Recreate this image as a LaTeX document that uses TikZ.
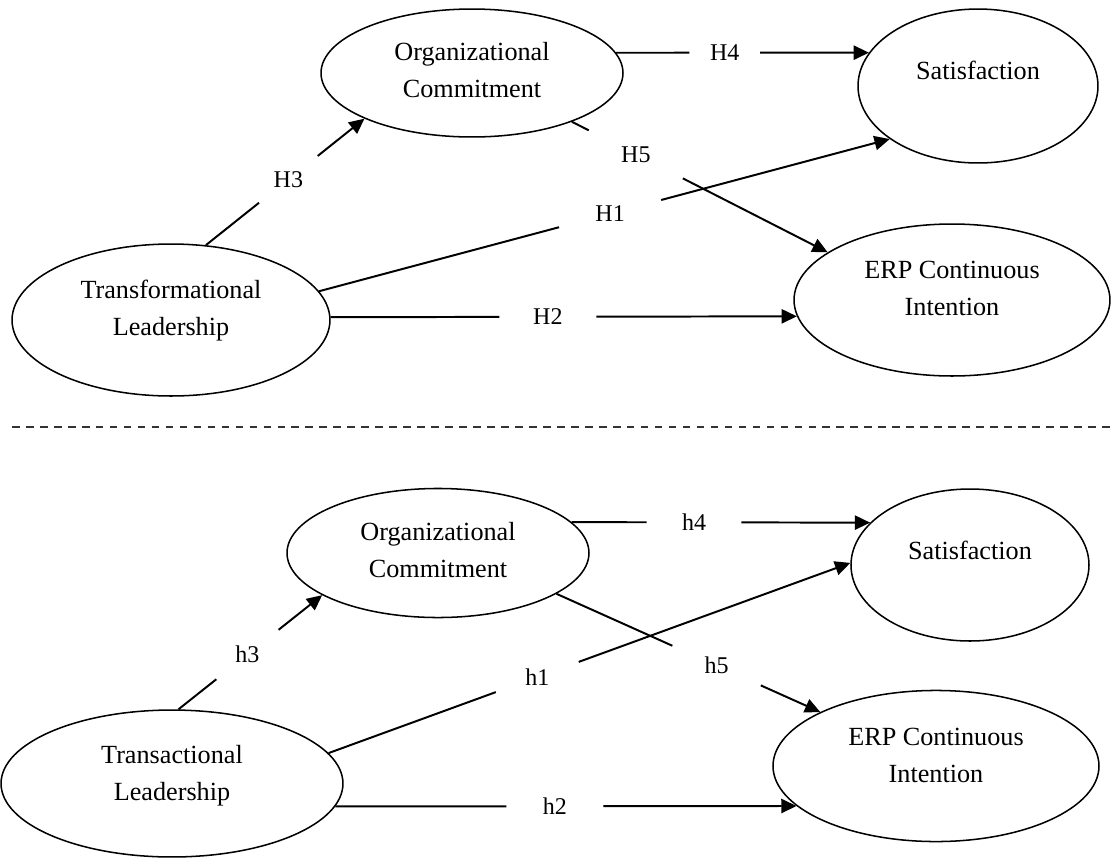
\documentclass[tikz,border=0pt]{standalone}
\usepackage{fontspec}
\setmainfont{Liberation Serif}
\usetikzlibrary{arrows.meta,calc,shapes.geometric}
\tikzset{>={Triangle[length=7pt,width=6.5pt]}}
\tikzstyle{latent}=[
	 ellipse, draw, line width=0.7pt,
	 inner sep=0pt,
	 font=\fontsize{12}{16.9}\selectfont
    ]
\tikzstyle{hyp}=[
	 circle, inner sep=0pt, minimum size=44pt,
	 font=\fontsize{11}{13}\selectfont
    ]
\newcommand{\lTxt}[2][0pt]{\smash{\raisebox{#1}{\begin{tabular}{@{}c@{}}#2\end{tabular}}}}
\newcommand{\pHY}[3]{\draw[line width=0.9pt] (#1) -- (#2); \draw[->,line width=0.9pt] (#2) -- (#3)}

\begin{document}
\begin{tikzpicture}[x=0.458pt,y=-0.458pt]
\useasboundingbox (0,0) rectangle (1112,859);

% transformational model
\node[latent,minimum width=145.6pt,minimum height=69.6pt] (TL) at (171,320) {\lTxt[1.9pt]{Transformational\\Leadership}};
\node[latent,minimum width=138.3pt,minimum height=58.6pt] (OC1) at (472,73) {\lTxt[-2.2pt]{Organizational\\Commitment}};
\node[latent,minimum width=109.9pt,minimum height=70.5pt] (SA1) at (978,86) {\lTxt[3.3pt]{Satisfaction}};
\node[latent,minimum width=144.7pt,minimum height=69.6pt] (EI1) at (952,300) {\lTxt[1.9pt]{ERP Continuous\\Intention}};

\node[hyp,minimum size=34pt] (H3) at ($(TL.65)!0.52!(OC1.203)$) {H3};
\node[hyp,minimum size=32pt] (H4) at ($(OC1.8)!0.43!(SA1.163)$) {H4};
\node[hyp,minimum size=48pt] (H5) at ($(OC1.334)!0.25!(EI1.159)$) {H5};
\node[hyp,minimum size=48pt] (H1) at ($(TL.11)!0.51!(SA1.211)$) {H1};
\node[hyp] (H2) at ($(TL.1)!0.466!(EI1.186)$) {H2};

\pHY{TL.65}{H3}{OC1.203};
\pHY{OC1.8}{H4}{SA1.163};
\pHY{OC1.334}{H5}{EI1.159};
\pHY{TL.11}{H1}{SA1.211};
\pHY{TL.1}{H2}{EI1.186};

% separator
\draw[black!80,line width=0.9pt,dash pattern=on 3.5pt off 2.9pt] (12,427) -- (1112,427);

% transactional model
\node[latent,minimum width=156.6pt,minimum height=67.3pt] (TC) at (172,783.5) {\lTxt[1pt]{Transactional\\Leadership}};
\node[latent,minimum width=138.3pt,minimum height=59.1pt] (OC2) at (438,553) {\lTxt[-2.2pt]{Organizational\\Commitment}};
\node[latent,minimum width=109pt,minimum height=69.6pt] (SA2) at (970,565) {\lTxt[2.8pt]{Satisfaction}};
\node[latent,minimum width=149.3pt,minimum height=69.2pt] (EI2) at (936,766) {\lTxt[1.4pt]{ERP Continuous\\Intention}};

\node[hyp,minimum size=36pt] (h3) at ($(TC.85)!0.48!(OC2.200)$) {h3};
\node[hyp,minimum size=43pt] (h4) at ($(OC2.13)!0.41!(SA2.157)$) {h4};
\node[hyp] (h5) at ($(OC2.341)!0.607!(EI2.155)$) {h5};
\node[hyp,minimum size=40pt] (h1) at ($(TC.11)!0.40!(SA2.179)$) {h1};
\node[hyp] (h2) at ($(TC.352)!0.476!(EI2.196)$) {h2};

\pHY{TC.85}{h3}{OC2.200};
\pHY{OC2.13}{h4}{SA2.157};
\pHY{OC2.341}{h5}{EI2.155};
\pHY{TC.11}{h1}{SA2.179};
\pHY{TC.352}{h2}{EI2.196};

\end{tikzpicture}
\end{document}
